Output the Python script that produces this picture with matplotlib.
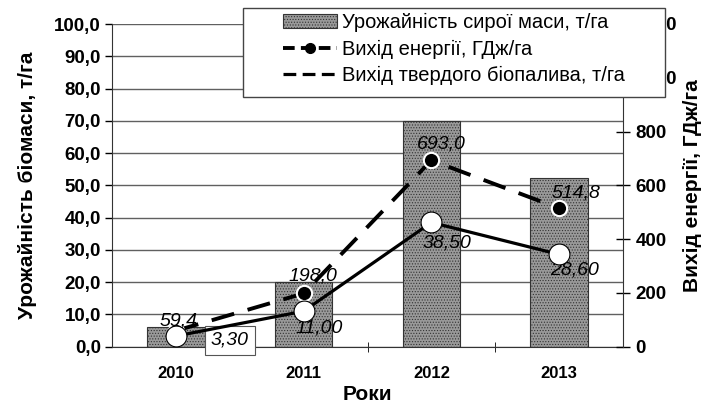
import matplotlib.pyplot as plt
from matplotlib.patches import Patch, Rectangle
from matplotlib.lines import Line2D
from matplotlib.ticker import FuncFormatter, MultipleLocator, FixedLocator

plt.rcParams['font.family'] = ['Liberation Sans', 'DejaVu Sans']
plt.rcParams['hatch.color'] = '#3a3a3a'
plt.rcParams['hatch.linewidth'] = 0.5

# data
years = ['2010', '2011', '2012', '2013']
raw_mass = [6.0, 20.0, 70.0, 52.3]          # т/га, left axis (bars)
energy = [59.4, 198.0, 693.0, 514.8]        # ГДж/га, right axis
biofuel = [3.30, 11.00, 38.50, 28.60]       # т/га, left axis

energy_labels = ['59,4', '198,0', '693,0', '514,8']
biofuel_labels = ['3,30', '11,00', '38,50', '28,60']

BAR_FACE = '#999999'
fig = plt.figure(figsize=(7.13, 4.05), dpi=100)
ax = fig.add_axes([112 / 713, 1 - 346.7 / 405, 511 / 713, 322.7 / 405])
x = list(range(len(years)))

# bars + grid
ax.set_axisbelow(True)
ax.yaxis.grid(True, color='#606060', lw=1)
ax.bar(x, raw_mass, width=0.45, color=BAR_FACE, edgecolor='#333333',
       lw=0.8, hatch='......')
ax.set_xlim(-0.5, 3.5)
ax.set_ylim(0, 100)
ax.yaxis.set_major_locator(MultipleLocator(10))
ax.yaxis.set_major_formatter(FuncFormatter(lambda v, p: f'{v:.1f}'.replace('.', ',')))
ax.set_xticks(x)
ax.set_xticklabels(years)
ax.xaxis.set_minor_locator(FixedLocator([0.5, 1.5, 2.5]))
ax.tick_params(axis='x', which='major', length=0, pad=14, labelsize=12)
ax.tick_params(axis='x', which='minor', length=7, direction='inout')
ax.tick_params(axis='y', length=5, width=1, labelsize=13.5, pad=3)
for lab in ax.get_xticklabels() + ax.get_yticklabels():
    lab.set_fontweight('bold')
for side in ['top', 'right']:
    ax.spines[side].set_visible(False)
ax.spines['left'].set_color('#333333')
ax.spines['bottom'].set_color('#333333')
ax.set_ylabel('Урожайність біомаси, т/га', fontsize=15, fontweight='bold', labelpad=12)
ax.set_xlabel('Роки', fontsize=15, fontweight='bold', labelpad=3)

# energy on right axis
ax2 = ax.twinx()
ax2.plot(x, energy, color='black', lw=2.8, ls=(0, (6, 3.6)), marker='o', ms=11,
         mfc='black', mec='white', mew=1.5)
ax2.set_ylim(0, 1200)
ax2.yaxis.set_major_locator(MultipleLocator(200))
ax2.tick_params(axis='y', length=10, width=1, direction='inout', labelsize=13.5, pad=4)
for lab in ax2.get_yticklabels():
    lab.set_fontweight('bold')
for side in ['top', 'left', 'bottom']:
    ax2.spines[side].set_visible(False)
ax2.spines['right'].set_color('#333333')
ax2.set_ylabel('Вихід енергії, ГДж/га', fontsize=15, fontweight='bold', labelpad=4)

energy_offsets = [(2, 7), (6.5, 12.7), (7.2, 11.5), (12.2, 11.3)]
for xi, yi, lab, off in zip(x, energy, energy_labels, energy_offsets):
    ax2.annotate(lab, (xi, yi), xytext=off, textcoords='offset points',
                 ha='center', va='center', fontsize=14, style='italic')

# solid biofuel on top layer (same scale as left axis)
ax3 = ax.twinx()
ax3.set_ylim(ax.get_ylim())
ax3.axis('off')
ax3.plot(x, biofuel, color='black', lw=2.3, marker='o', ms=15,
         mfc='white', mec='black', mew=0.8, zorder=3)
biofuel_offsets = [(39, -3), (11.5, -12), (11.5, -14.6), (10.8, -11)]
for i, (xi, yi, lab, off) in enumerate(zip(x, biofuel, biofuel_labels, biofuel_offsets)):
    box = None
    if i == 0:
        box = dict(boxstyle='square,pad=0.3', fc='white', ec='#555555', lw=0.8)
    ax3.annotate(lab, (xi, yi), xytext=off, textcoords='offset points',
                 ha='center', va='center', fontsize=14, style='italic',
                 bbox=box, zorder=2)

# legend: white frame box + frameless legend on top
frame = Rectangle((243 / 713, 1 - 97 / 405), 422 / 713, 89 / 405,
                  transform=fig.transFigure, fc='white', ec='#444444', lw=1,
                  zorder=9)
fig.add_artist(frame)
handles = [
    Patch(facecolor=BAR_FACE, edgecolor='#333333', hatch='......', lw=0.8),
    Line2D([], [], color='black', lw=2.8, ls=(0, (3, 1.6)), marker='o', ms=7, mfc='black'),
    Line2D([], [], color='black', lw=2.3, ls=(0, (4, 2))),
]
names = ['Урожайність сирої маси, т/га', 'Вихід енергії, ГДж/га',
         'Вихід твердого біопалива, т/га']
leg = fig.legend(handles, names, loc='upper left',
                 bbox_to_anchor=(283 / 713, 1 - 13 / 405), fontsize=14.5,
                 frameon=False, borderpad=0, labelspacing=0.38,
                 handlelength=2.7, handletextpad=0.25, borderaxespad=0)
leg.set_zorder(10)

fig.savefig('out.png', dpi=100)
